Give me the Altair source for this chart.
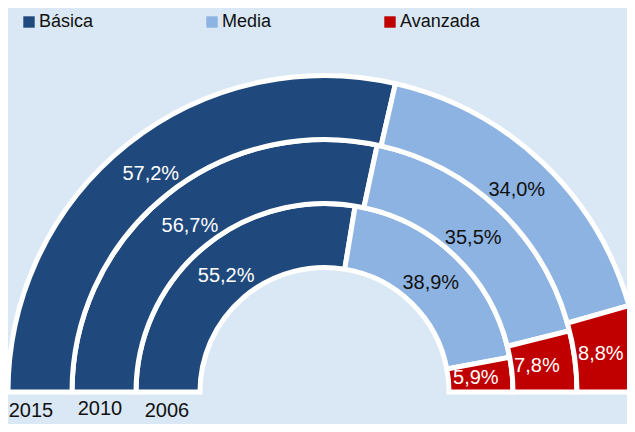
import math
import altair as alt
import pandas as pd

# ---- data ----
years = ["2006", "2010", "2015"]
niveles = ["Básica", "Media", "Avanzada"]
basica = [55.2, 56.7, 57.2]
media = [38.9, 35.5, 34.0]
avanzada = [5.9, 7.8, 8.8]
colores = ["#1F497D", "#8DB3E2", "#C00000"]

rows = []
for i, y in enumerate(years):
    for j, (n, vals) in enumerate(zip(niveles, [basica, media, avanzada])):
        v = vals[i]
        rows.append({
            "anio": y, "nivel": n, "orden": j, "valor": v,
            "etiqueta": f"{v:.1f}".replace(".", ",") + "%",
        })
df = pd.DataFrame(rows)

# ---- layout ----
BG = "#DAE8F5"
CX, CY = 316.5, 384
FONT = "Liberation Sans"
ring = {  # inner, outer, label radius
    "2006": (124.5, 188.5, 152),
    "2010": (188.5, 252.5, 214),
    "2015": (252.5, 316.5, 279),
}
year_pos = {"2006": (157.5, 19), "2010": (224.5, 17), "2015": (293.5, 19)}

theta_scale = alt.Scale(domain=[0, 100], range=[3 * math.pi / 2, 5 * math.pi / 2])
color_scale = alt.Scale(domain=niveles, range=colores)

base = alt.Chart(df)
layers = []
for y in years:
    r0, r1, rl = ring[y]
    sub = base.transform_filter(alt.datum.anio == y)
    arcs = sub.mark_arc(innerRadius=r0, outerRadius=r1, stroke="white", strokeWidth=5).encode(
        x=alt.value(CX), y=alt.value(CY),
        theta=alt.Theta("valor:Q", stack=True, scale=theta_scale),
        color=alt.Color("nivel:N", scale=color_scale, title=None,
                        legend=alt.Legend(orient="none", legendX=12, legendY=5,
                                          direction="horizontal", symbolType="square",
                                          symbolSize=130, symbolStrokeWidth=0,
                                          labelFontSize=18, labelFont=FONT,
                                          labelColor="#111111", labelOffset=1,
                                          columnPadding=109)),
        order=alt.Order("orden:Q"),
    )
    texts = sub.mark_text(radius=rl, fontSize=20, font=FONT, align="center", baseline="middle").encode(
        x=alt.value(CX), y=alt.value(CY),
        theta=alt.Theta("valor:Q", stack=True, scale=theta_scale),
        text="etiqueta:N",
        color=alt.condition(alt.datum.nivel == "Media", alt.value("#111111"), alt.value("white")),
        order=alt.Order("orden:Q"),
    )
    yr, ydy = year_pos[y]
    ylab = sub.transform_filter(alt.datum.orden == 0).mark_text(
        radius=yr, theta=3 * math.pi / 2, dy=ydy, fontSize=20, font=FONT,
        align="center", baseline="middle", color="#111111",
    ).encode(x=alt.value(CX), y=alt.value(CY), text="anio:N")
    layers += [arcs, texts, ylab]

chart = alt.layer(*layers).properties(
    width=619, height=416, autosize="none", padding=0, background=BG
).configure_view(stroke=None)

chart.save("out.html", embed_options={"renderer": "svg", "actions": False})
